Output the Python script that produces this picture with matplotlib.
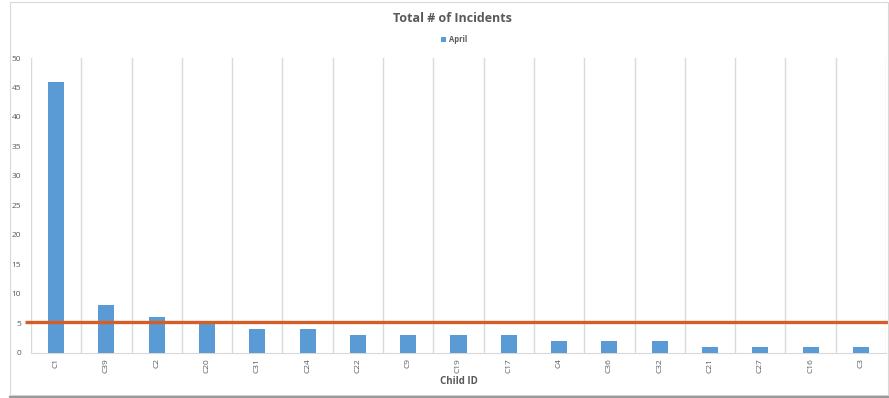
import matplotlib
matplotlib.use("Agg")
import matplotlib.pyplot as plt
from matplotlib.patches import Rectangle
from matplotlib.lines import Line2D
import numpy as np

plt.rcParams['font.family'] = ['Open Sans', 'DejaVu Sans']

child_ids = ["C1", "C39", "C2", "C20", "C31", "C24", "C22", "C9", "C19", "C17",
             "C4", "C36", "C32", "C21", "C27", "C16", "C3"]
april = [46, 8, 6, 5, 4, 4, 3, 3, 3, 3, 2, 2, 2, 1, 1, 1, 1]
threshold = 5.2
y_ticks = [0, 5, 10, 15, 20, 25, 30, 35, 40, 45, 50]

W, H = 889, 398
fig = plt.figure(figsize=(W / 100, H / 100), dpi=100)
fig.patch.set_facecolor("white")

# outer chart frame
fig.patches.append(Rectangle((10 / W, 3 / H), (W - 11) / W, (H - 5) / H,
                             transform=fig.transFigure, fill=False,
                             edgecolor="#D9D9D9", linewidth=0.8))
fig.lines.append(Line2D([10 / W, 1], [1.5 / H, 1.5 / H], transform=fig.transFigure,
                        color="#9A9A9A", linewidth=1.6))

ax = fig.add_axes([31 / W, 1 - 352.5 / H, (886 - 31) / W, (352.5 - 58) / H])
x = np.arange(len(child_ids))
ax.bar(x, april, width=0.32, color="#5B9BD5", label="April", zorder=3)

ax.set_xlim(-0.5, len(child_ids) - 0.5)
ax.set_ylim(0, 50)

# vertical separators between categories
for b in np.arange(-0.5, len(child_ids) + 0.5, 1):
    ax.axvline(b, color="#D9D9D9", linewidth=1.0, zorder=1)

for s in ["top", "right", "left"]:
    ax.spines[s].set_visible(False)
ax.spines["bottom"].set_color("#D9D9D9")

ax.set_xticks(x)
ax.set_xticklabels(child_ids, rotation=90, fontsize=6, color="#595959")
ax.set_yticks(y_ticks)
ax.set_yticklabels([str(v) for v in y_ticks], fontsize=6, color="#595959")
ax.tick_params(axis="x", length=0, pad=4)
ax.tick_params(axis="y", length=0, pad=7)

ax.set_xlabel("Child ID", fontsize=7, fontweight="bold", color="#595959", labelpad=2.5)

# reference line across the chart
ax.plot([-0.62, len(child_ids) - 0.45], [threshold, threshold], color="#D55E28",
        linewidth=2.4, zorder=4, clip_on=False, solid_capstyle="butt")

fig.text(452 / W, 1 - 18.5 / H, "Total # of Incidents", ha="center", va="center",
         fontsize=9, fontweight="bold", color="#595959")
leg = fig.legend(loc="center", bbox_to_anchor=(454 / W, 1 - 40 / H), frameon=False,
                 fontsize=5.5, handlelength=0.6, handleheight=0.6, handletextpad=0.4,
                 labelcolor="#595959")
for t in leg.get_texts():
    t.set_fontweight("bold")

fig.savefig("out.png", dpi=100, facecolor="white")
